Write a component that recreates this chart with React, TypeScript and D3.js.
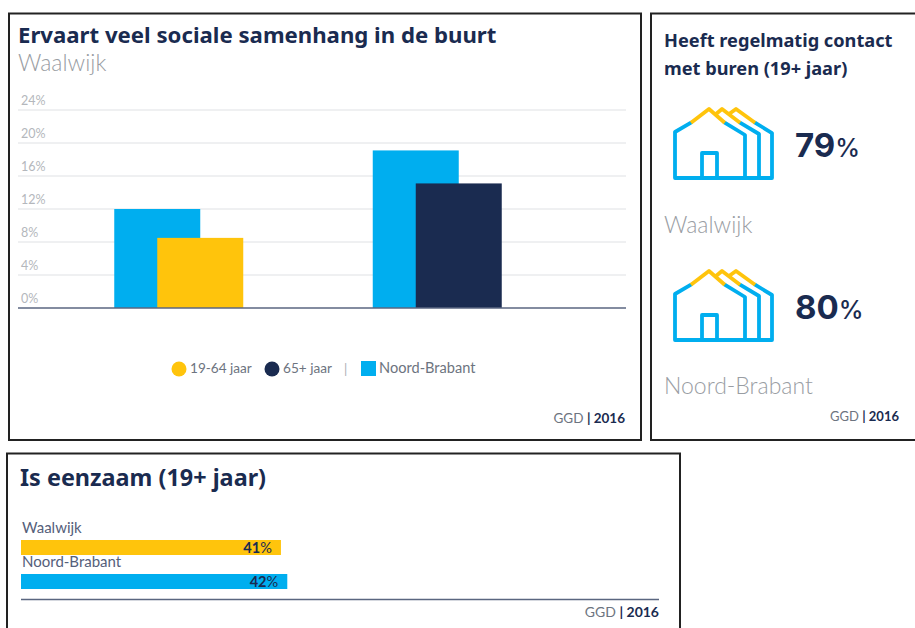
import React from "react";
import * as d3 from "d3";

const yTicks = [0, 4, 8, 12, 16, 20, 24];
const groups = ["a", "b"];
const noordBrabant = [12, 19.1];
const waalwijkValues = [8.5, 15.1];
const waalwijkColors = ["#ffc40c", "#1a2b50"];
const contactLabels = ["Waalwijk", "Noord-Brabant"];
const contactValues = [79, 80];
const lonelyLabels = ["Waalwijk", "Noord-Brabant"];
const lonelyValues = [41, 42];
const lonelyColors = ["#ffc40c", "#00aeef"];

const NAVY = "#1a2b50";
const BLUE = "#00aeef";
const YELLOW = "#ffc40c";
const GREY = "#999da3";
const FONT = "Lato, 'Noto Sans', sans-serif";
const BOLD = "'Noto Sans', Lato, sans-serif";

const line = d3.line();
const door: [number, number][] = [[27, 56], [27, 31], [42, 31], [42, 56]];

function House({ y }: { y: number }) {
  const s = { fill: "none", strokeWidth: 3.8, strokeLinejoin: "round" as const, strokeLinecap: "round" as const };
  const b = { ...s, strokeLinecap: "butt" as const };
  return (
    <g transform={`translate(675,${y})`}>
      <path d={line([[16, 0.7], [0, 10], [0, 56], [97, 56], [97, 11], [80, 0.7]])!} stroke={BLUE} {...s} />
      <path d={line([[49.7, 0.7], [70, 13], [70, 56]])!} stroke={BLUE} {...s} />
      <path d={line([[65, 0.7], [84, 12], [84, 56]])!} stroke={BLUE} {...s} />
      <path d={line(door)!} stroke={BLUE} {...s} />
      <path d={line([[16, 0.7], [34, -13], [49.7, 0.7]])!} stroke={YELLOW} {...b} />
      <path d={line([[41, -8], [47, -13], [65, 0.7]])!} stroke={YELLOW} {...b} />
      <path d={line([[54, -8], [61, -13], [80, 0.7]])!} stroke={YELLOW} {...b} />
    </g>
  );
}

function Source({ x, y, size = 13.5 }: { x: number; y: number; size?: number }) {
  return (
    <text x={x} y={y} textAnchor="end" fontSize={size} fill="#6d7480">
      GGD <tspan fill={NAVY} fontWeight={700}>| 2016</tspan>
    </text>
  );
}

export default function App() {
  const y = d3.scaleLinear().domain([0, 24]).range([308, 110]);
  const x0 = d3.scaleBand<string>().domain(groups).range([49.5, 566.5]);
  const barW = 86;
  const hx = d3.scaleLinear().domain([0, 100]).range([21, 655]);

  return (
    <svg width={915} height={628} style={{ position: "absolute", left: 0, top: 0, fontFamily: FONT }}>
      <rect width={915} height={628} fill="#fff" />

      {/* Panel 1 */}
      <rect x={9} y={13.5} width={632} height={426.5} fill="#fff" stroke="#222" strokeWidth={2} />
      <text x={18} y={43} fontSize={22.2} fontWeight={700} fill={NAVY} fontFamily={BOLD}>Ervaart veel sociale samenhang in de buurt</text>
      <text x={18} y={71} fontSize={23} fontWeight={300} fill={GREY}>Waalwijk</text>
      {yTicks.map((t) => (
        <g key={t}>
          {t > 0 && <line x1={18} x2={626} y1={y(t)} y2={y(t)} stroke="#dfe1e4" />}
          <text x={21} y={y(t) - 5} fontSize={12.5} fill="#b4b7bc">{t}%</text>
        </g>
      ))}
      {groups.map((g, i) => {
        const cx = x0(g)! + x0.bandwidth() / 2;
        return (
          <g key={g}>
            <rect x={cx - 64.5} y={y(noordBrabant[i])} width={barW} height={y(0) - y(noordBrabant[i])} fill={BLUE} />
            <rect x={cx - 21.5} y={y(waalwijkValues[i])} width={barW} height={y(0) - y(waalwijkValues[i])} fill={waalwijkColors[i]} />
          </g>
        );
      })}
      <line x1={18} x2={626} y1={y(0)} y2={y(0)} stroke="#5a6680" strokeWidth={1.5} />

      <circle cx={179} cy={369} r={7.5} fill={YELLOW} />
      <text x={190} y={373} fontSize={13.6} fill="#6d7480">19-64 jaar</text>
      <circle cx={272} cy={369} r={7.5} fill={NAVY} />
      <text x={283} y={373} fontSize={13.6} fill="#6d7480">65+ jaar</text>
      <text x={344} y={374} fontSize={13} fill="#a9adb2">|</text>
      <rect x={361} y={361} width={15} height={15} fill={BLUE} />
      <text x={379} y={373} fontSize={14.6} fill="#6d7480">Noord-Brabant</text>
      <Source x={625} y={423} />

      {/* Panel 2 */}
      <rect x={651} y={13.5} width={270} height={426.5} fill="#fff" stroke="#222" strokeWidth={2} />
      <text x={664} y={47} fontSize={18.2} fontWeight={700} fill={NAVY} fontFamily={BOLD}>Heeft regelmatig contact</text>
      <text x={664} y={75} fontSize={18.2} fontWeight={700} fill={NAVY} fontFamily={BOLD}>met buren (19+ jaar)</text>
      {contactValues.map((v, i) => {
        const dy = i * 162;
        return (
          <g key={i}>
            <House y={122 + dy} />
            <text x={795} y={157 + dy} fontSize={33} fontWeight={700} fill={NAVY} fontFamily="Inter, Lato, sans-serif">
              {v}<tspan fontSize={25} fontWeight={500}>%</tspan>
            </text>
            <text x={664} y={i === 0 ? 233 : 394} fontSize={23} fontWeight={300} fill={GREY}>{contactLabels[i]}</text>
          </g>
        );
      })}
      <Source x={899} y={421} size={13} />

      {/* Panel 3 */}
      <rect x={7} y={453.5} width={673} height={190} fill="#fff" stroke="#222" strokeWidth={2} />
      <text x={20} y={486} fontSize={23.4} fontWeight={700} fill={NAVY} fontFamily={BOLD}>Is eenzaam (19+ jaar)</text>
      {lonelyLabels.map((l, i) => {
        const top = i === 0 ? 540 : 574;
        return (
          <g key={l}>
            <text x={22} y={top - 7} fontSize={15} fill="#55607a">{l}</text>
            <rect x={hx(0)} y={top} width={hx(lonelyValues[i]) - hx(0)} height={15} fill={lonelyColors[i]} />
            <text x={hx(lonelyValues[i]) - 9} y={top + 13} textAnchor="end" fontSize={14.6} fontWeight={700} fill={NAVY}>
              {lonelyValues[i]}<tspan fontWeight={400}>%</tspan>
            </text>
          </g>
        );
      })}
      <line x1={21} x2={659} y1={599.5} y2={599.5} stroke="#5a6680" strokeWidth={1.5} />
      <Source x={659} y={617} size={14} />
    </svg>
  );
}
